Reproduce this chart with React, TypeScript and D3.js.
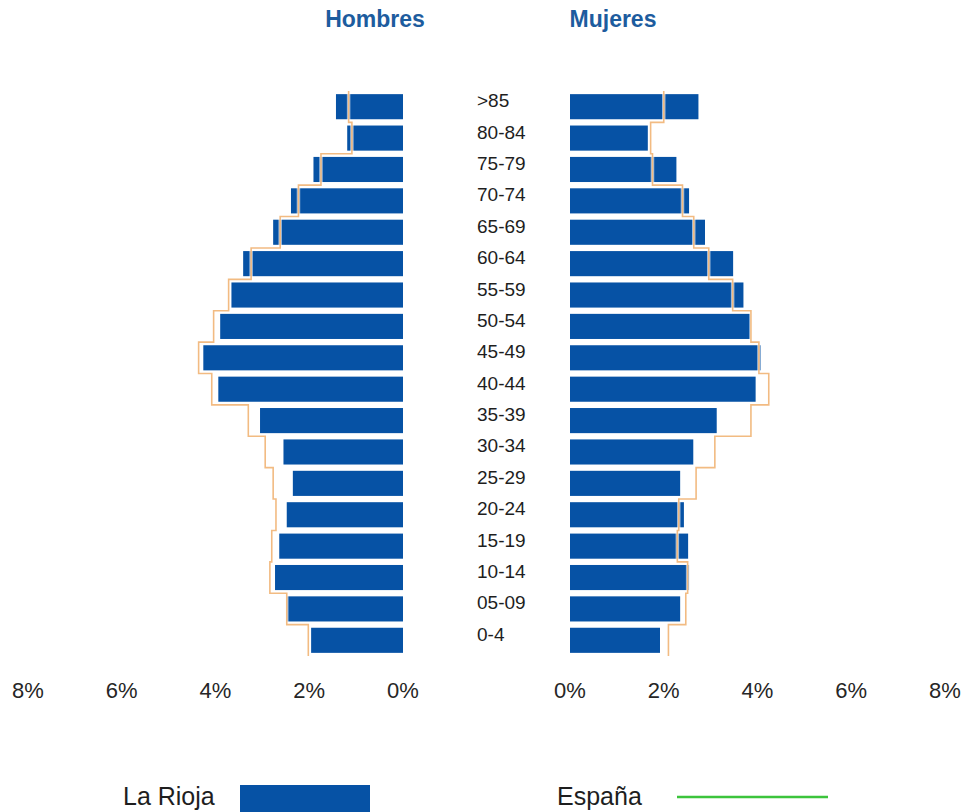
import React from "react";
import * as d3 from "d3";

const ages = ["0-4","05-09","10-14","15-19","20-24","25-29","30-34","35-39","40-44","45-49","50-54","55-59","60-64","65-69","70-74","75-79","80-84",">85"];
// values listed from 0-4 up to >85 (percent)
const riojaMen = [1.96, 2.47, 2.73, 2.64, 2.48, 2.35, 2.55, 3.05, 3.94, 4.26, 3.90, 3.66, 3.41, 2.77, 2.39, 1.91, 1.19, 1.43];
const spainMen = [2.02, 2.48, 2.84, 2.80, 2.71, 2.77, 2.94, 3.30, 4.08, 4.36, 4.04, 3.72, 3.24, 2.62, 2.23, 1.75, 1.09, 1.16];
const riojaWomen = [1.92, 2.35, 2.54, 2.52, 2.43, 2.35, 2.63, 3.13, 3.96, 4.07, 3.84, 3.70, 3.48, 2.88, 2.54, 2.27, 1.66, 2.74];
const spainWomen = [2.10, 2.47, 2.51, 2.29, 2.32, 2.69, 3.09, 3.86, 4.24, 4.03, 3.86, 3.47, 2.96, 2.64, 2.40, 1.76, 1.72, 2.00];
const ticks = [0, 2, 4, 6, 8];
const titles = ["Hombres", "Mujeres"];
const legendLabels = ["La Rioja", "España"];

const BAR = "#0652a5";
const STEP = "#f2bb82";
const FONT = "'Liberation Sans', Arial, sans-serif";

export default function App() {
  const order = ages.slice().reverse(); // top: >85
  const y = d3.scaleBand<string>().domain(order).range([91, 656]).paddingInner(0.2).paddingOuter(0.1);
  const step = y.step();
  const bw = y.bandwidth();
  const xL = d3.scaleLinear().domain([0, 8]).range([403, 28]);
  const xR = d3.scaleLinear().domain([0, 8]).range([570, 945]);

  const stepPts = (vals: number[], x: d3.ScaleLinear<number, number>) => {
    const pts: [number, number][] = [];
    order.forEach((a) => {
      const i = ages.indexOf(a);
      const top = (y(a) as number) - step * 0.1;
      const bot = (y(a) as number) + bw + step * 0.1;
      pts.push([x(vals[i]), top]);
      pts.push([x(vals[i]), bot]);
    });
    return d3.line()(pts) as string;
  };

  const menLine = stepPts(spainMen, xL);
  const womenLine = stepPts(spainWomen, xR);

  return (
    <svg width={965} height={812} style={{ position: "absolute", left: 0, top: 0, background: "#fff" }} fontFamily={FONT}>
      <text x={375} y={27} textAnchor="middle" fontSize={23} fontWeight="bold" fill="#1d5c9e">{titles[0]}</text>
      <text x={613} y={27} textAnchor="middle" fontSize={23} fontWeight="bold" fill="#1d5c9e">{titles[1]}</text>

      {ages.map((a, i) => (
        <rect key={"m" + a} x={xL(riojaMen[i])} y={y(a)} width={xL(0) - xL(riojaMen[i])} height={bw} fill={BAR} />
      ))}
      {ages.map((a, i) => (
        <rect key={"w" + a} x={xR(0)} y={y(a)} width={xR(riojaWomen[i]) - xR(0)} height={bw} fill={BAR} />
      ))}

      <path d={menLine} fill="none" stroke="#ffffff" strokeOpacity={0.6} strokeWidth={3.5} />
      <path d={menLine} fill="none" stroke={STEP} strokeWidth={1.6} />
      <path d={womenLine} fill="none" stroke="#ffffff" strokeOpacity={0.6} strokeWidth={3.5} />
      <path d={womenLine} fill="none" stroke={STEP} strokeWidth={1.6} />

      {ages.map((a) => (
        <text key={"l" + a} x={477} y={(y(a) as number) + bw / 2 + 0.5} fontSize={19} fill="#1e1e1e">{a}</text>
      ))}

      {ticks.map((t) => (
        <text key={"tl" + t} x={xL(t)} y={698} textAnchor="middle" fontSize={22} fill="#262626">{t + "%"}</text>
      ))}
      {ticks.map((t) => (
        <text key={"tr" + t} x={xR(t)} y={698} textAnchor="middle" fontSize={22} fill="#262626">{t + "%"}</text>
      ))}

      <text x={123} y={805} fontSize={25} fill="#1e1e1e">{legendLabels[0]}</text>
      <rect x={240} y={785} width={130} height={27} fill={BAR} />
      <text x={557} y={805} fontSize={25} fill="#1e1e1e">{legendLabels[1]}</text>
      <line x1={677} x2={828} y1={797} y2={797} stroke="#3cc43c" strokeWidth={2.5} />
    </svg>
  );
}
